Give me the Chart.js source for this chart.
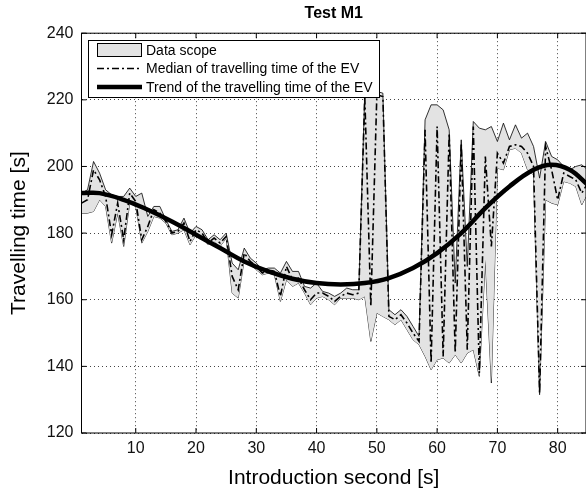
<!DOCTYPE html>
<html>
<head>
<meta charset="utf-8">
<title>Test M1</title>
<script src="https://cdn.jsdelivr.net/npm/chart.js@4.4.1/dist/chart.umd.min.js"></script>
<style>
  body { margin: 0; background: #fff; }
  #wrap { width: 586px; height: 493px; }
</style>
</head>
<body>
<div id="wrap"><canvas id="myChart" width="586" height="493"></canvas></div>
<script>
// introduction second of each measurement
const seconds = [1, 2, 3, 4, 5, 6, 7, 8, 9, 10, 11, 12, 13, 14, 15, 16, 17, 18, 19, 20,
  21, 22, 23, 24, 25, 26, 27, 28, 29, 30, 31, 32, 33, 34, 35, 36, 37, 38, 39, 40,
  41, 42, 43, 44, 45, 46, 47, 48, 49, 50, 51, 52, 53, 54, 55, 56, 57, 58, 59, 60,
  61, 62, 63, 64, 65, 66, 67, 68, 69, 70, 71, 72, 73, 74, 75, 76, 77, 78, 79, 80,
  81, 82, 83, 84, 85];

// upper and lower edge of the data scope
const scopeMax = [192, 193, 201.5, 198, 193, 191.5, 191, 191, 193.5, 191, 192, 185, 188, 188, 184, 180.5, 181, 184.5, 180, 182,
  181, 178, 179.5, 178, 180, 171, 169, 175.5, 172.5, 171, 169, 169.5, 169.5, 168, 171.5, 168.5, 168.5, 164, 163.5, 165,
  162.5, 162, 161, 162, 163.5, 163, 163, 222.5, 222.5, 222.5, 222, 157, 155.5, 157, 155, 152, 149, 214, 218.5, 218.5,
  217, 211, 165, 208, 170, 213.5, 211.5, 211, 212, 207.5, 213, 208, 212.5, 208.5, 210, 206, 196.5, 207.5, 203, 202,
  200, 199, 200, 200.5, 199];
const scopeMin = [186, 186, 186.5, 190, 188, 177, 186, 176, 189, 188, 177, 180.5, 185, 184.5, 183, 179.5, 180, 181, 176.5, 179.5,
  179, 176.5, 177.5, 176, 178.5, 162, 160.5, 172, 170.5, 169, 167.5, 168, 167.5, 159.5, 166, 164, 165, 162, 158.5, 160.5,
  161, 160, 158.5, 160.5, 160.5, 160.5, 160, 161, 147.5, 156, 155, 154, 152.5, 154, 151, 148, 146.5, 143, 139, 142,
  142.5, 141, 143.5, 141, 144, 145, 137, 172, 135, 199.5, 199, 205, 205.5, 204, 199, 197.5, 131.5, 190, 189, 188.5,
  195.5, 195, 194, 188.5, 192];

// median of the travelling time
const median = [189, 190, 199, 196, 191, 179.5, 189, 178, 192, 189.5, 178, 182, 187, 186, 183.5, 180, 180.5, 183, 177.5, 181,
  180, 177, 178.5, 177, 179, 167, 163, 174, 171.5, 170, 168, 169, 168.5, 161, 170, 166, 166.5, 163, 160, 162,
  162, 161, 159.5, 161, 162, 161.5, 162, 221, 158, 221.5, 221, 155, 154, 155.5, 153, 150, 147.5, 211, 141, 212,
  143, 210, 144, 207, 145, 212, 138, 203, 176, 204, 201, 206, 206.5, 206, 204, 200, 132, 206, 199, 190,
  198, 197, 196, 192, 195];

// trend curve
const trendX = [1, 4, 8, 12, 16, 20, 24, 28, 32, 36, 40, 44, 48, 52, 56, 60, 64, 68, 72, 76, 79, 82, 85];
const trendY = [192, 192, 190, 187, 183.5, 179.5, 175.5, 171.5, 168.5, 166.3, 165, 164.6, 165, 166.5, 169.5, 174, 180, 187.5, 194, 199, 200.5, 199, 194.5];

const xTicks = [10, 20, 30, 40, 50, 60, 70, 80];
const yTicks = [120, 140, 160, 180, 200, 220, 240];
const legendLabels = ['Data scope', 'Median of travelling time of the EV', 'Trend of the travelling time of the EV'];

const fontName = "'Liberation Sans', Arial, Helvetica, sans-serif";
const scopeGrey = '#e3e3e3';

function toPoints(xs, ys){
  return xs.map((x, i) => ({x: x, y: ys[i]}));
}

// box, inward ticks and the legend, drawn like matlab does it
const framePlugin = {
  id: 'frame',
  afterDraw(chart){
    const ctx = chart.ctx;
    const a = chart.chartArea;
    const xs = chart.scales.x;
    const ys = chart.scales.y;
    ctx.save();
    ctx.strokeStyle = '#000';
    ctx.lineWidth = 1;
    ctx.setLineDash([]);
    ctx.strokeRect(a.left, a.top, a.right - a.left, a.bottom - a.top);

    ctx.beginPath();
    xTicks.forEach(v => {
      let p = xs.getPixelForValue(v);
      ctx.moveTo(p, a.bottom); ctx.lineTo(p, a.bottom - 5);
      ctx.moveTo(p, a.top); ctx.lineTo(p, a.top + 5);
    });
    yTicks.forEach(v => {
      let p = ys.getPixelForValue(v);
      ctx.moveTo(a.left, p); ctx.lineTo(a.left + 5, p);
      ctx.moveTo(a.right, p); ctx.lineTo(a.right - 5, p);
    });
    ctx.stroke();

    // legend box
    let lx = 88.5, ly = 40.5, lw = 291, lh = 57;
    ctx.fillStyle = '#fff';
    ctx.fillRect(lx, ly, lw, lh);
    ctx.strokeRect(lx, ly, lw, lh);
    let rows = [50, 68.5, 87];

    ctx.fillStyle = scopeGrey;
    ctx.fillRect(97.5, rows[0] - 6.5, 44, 13);
    ctx.strokeRect(97.5, rows[0] - 6.5, 44, 13);

    ctx.beginPath();
    ctx.lineWidth = 1.5;
    ctx.setLineDash([7, 3, 2, 3]);
    ctx.moveTo(97, rows[1]); ctx.lineTo(142, rows[1]);
    ctx.stroke();

    ctx.beginPath();
    ctx.lineWidth = 4.5;
    ctx.setLineDash([]);
    ctx.moveTo(97, rows[2]); ctx.lineTo(142, rows[2]);
    ctx.stroke();

    ctx.fillStyle = '#000';
    ctx.font = '14px ' + fontName;
    ctx.textBaseline = 'middle';
    ctx.textAlign = 'left';
    legendLabels.forEach((t, i) => ctx.fillText(t, 146, rows[i] + 1));
    ctx.restore();
  }
};

const ctx = document.getElementById('myChart');

new Chart(ctx, {
  type: 'line',
  data: {
    datasets: [
      {
        label: legendLabels[2],
        data: toPoints(trendX, trendY),
        borderColor: '#000',
        borderWidth: 4.5,
        tension: 0.4,
        pointRadius: 0,
        fill: false
      },
      {
        label: legendLabels[1],
        data: toPoints(seconds, median),
        borderColor: '#000',
        borderWidth: 1.6,
        borderDash: [7, 3, 2, 3],
        tension: 0,
        pointRadius: 0,
        fill: false
      },
      {
        label: 'scope max',
        data: toPoints(seconds, scopeMax),
        borderColor: '#000',
        borderWidth: 0.8,
        tension: 0,
        pointRadius: 0,
        backgroundColor: scopeGrey,
        fill: '+1'
      },
      {
        label: 'scope min',
        data: toPoints(seconds, scopeMin),
        borderColor: '#000',
        borderWidth: 0.8,
        tension: 0,
        pointRadius: 0,
        fill: false
      }
    ]
  },
  options: {
    responsive: false,
    animation: false,
    devicePixelRatio: 1,
    layout: { padding: 0 },
    plugins: {
      legend: { display: false },
      tooltip: { enabled: false },
      title: {
        display: true,
        text: 'Test M1',
        fullSize: false,
        color: '#000',
        font: { family: fontName, size: 16, weight: 'bold' },
        padding: { top: 4, bottom: 10 }
      }
    },
    scales: {
      x: {
        type: 'linear',
        min: 1,
        max: 84.7,
        afterBuildTicks: s => { s.ticks = xTicks.map(v => ({value: v})); },
        afterFit: s => { s.height = 60; },
        grid: { color: '#444', lineWidth: 1, drawTicks: false },
        border: { display: false, dash: [1, 3] },
        ticks: { color: '#111', font: { family: fontName, size: 16 }, padding: 6, maxRotation: 0 },
        title: { display: true, text: 'Introduction second [s]', color: '#000', font: { family: fontName, size: 21 }, padding: { top: 0, bottom: 2 } }
      },
      y: {
        min: 120,
        max: 240,
        afterBuildTicks: s => { s.ticks = yTicks.map(v => ({value: v})); },
        afterFit: s => { s.width = 81.5; },
        grid: { color: '#444', lineWidth: 1, drawTicks: false },
        border: { display: false, dash: [1, 3] },
        ticks: { color: '#111', font: { family: fontName, size: 16 }, padding: 8 },
        title: { display: true, text: 'Travelling time [s]', color: '#000', font: { family: fontName, size: 21 }, padding: { top: 7, bottom: 0 } }
      }
    }
  },
  plugins: [framePlugin]
});
</script>
</body>
</html>
